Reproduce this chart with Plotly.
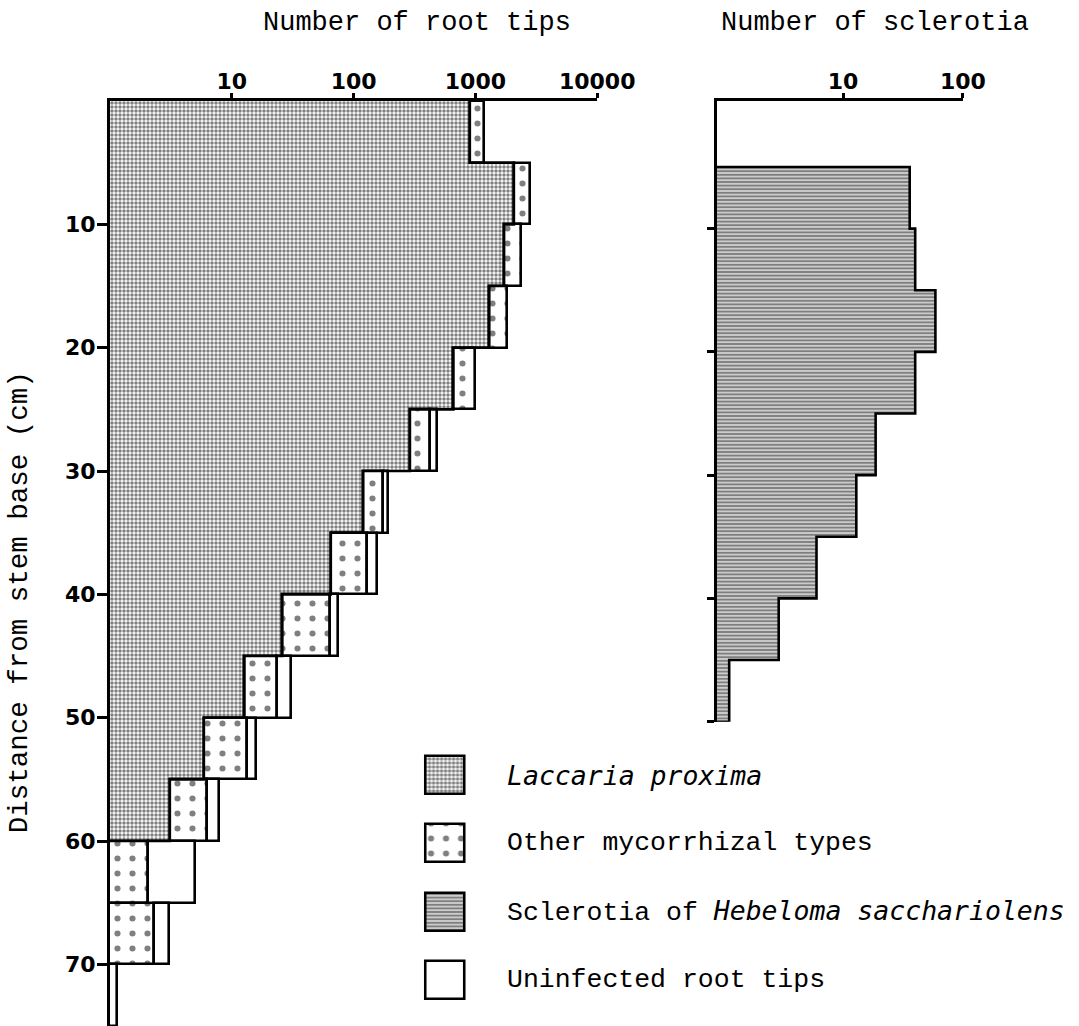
import plotly.graph_objects as go

# ---------------- data ----------------
bin_top_cm = [0, 5, 10, 15, 20, 25, 30, 35, 40, 45, 50, 55, 60, 65, 70]
bin_size_cm = 5
laccaria = [900, 2070, 1720, 1300, 660, 290, 120, 65, 26, 12.7, 5.9, 3.1, 0, 0, 0]
other_myc = [280, 720, 650, 500, 325, 130, 55, 63, 38, 10.6, 7.5, 3.2, 2.05, 2.3, 0]
uninfected = [0, 0, 0, 0, 0, 62, 18, 28, 11, 7.3, 2.4, 1.5, 2.95, 0.75, 1.15]

scl_bin_top_cm = [5, 10, 15, 20, 25, 30, 35, 40, 45]
sclerotia = [36, 40, 59, 40, 18.7, 12.9, 6, 2.9, 1.12]

root_ticks = [10, 100, 1000, 10000]
scl_ticks = [10, 100]
depth_ticks = [10, 20, 30, 40, 50, 60, 70]
scl_depth_ticks = [10, 20, 30, 40, 50]

legend_labels = [
    "<span style=\"font-family:'DejaVu Sans Mono'\"><i>Laccaria proxima</i></span>",
    "Other mycorrhizal types",
    "Sclerotia of <span style=\"font-family:'DejaVu Sans Mono'\"><i>Hebeloma sacchariolens</i></span>",
    "Uninfected root tips",
]

# ---------------- layout helpers ----------------
W, H = 1079, 1026
def fx(px):
    return px / W
def fy(px):
    return 1 - px / H

LINE = 2.6
MONO = "Liberation Mono, Courier New, monospace"
BOLD = dict(family="DejaVu Sans, Verdana, sans-serif", size=22, color="black", weight="bold")

x1_range = [0, 4]
x2_range = [-0.054, 2]

pat_lacc = dict(shape=".", fgcolor="black", bgcolor="white", size=4, solidity=0.6)
pat_other = dict(shape=".", fgcolor="black", bgcolor="white", size=15, solidity=0.13)
pat_scl = dict(shape="-", fgcolor="black", bgcolor="white", size=3.6, solidity=0.7)

mids = [t + bin_size_cm / 2 for t in bin_top_cm]
scl_mids = [t + bin_size_cm / 2 for t in scl_bin_top_cm]

def nz(v):
    return [x if x > 0 else None for x in v]

fig = go.Figure()

# Laccaria proxima (no outline, outline drawn as a staircase below)
fig.add_trace(go.Bar(
    y=mids, x=nz(laccaria), orientation="h", width=bin_size_cm,
    marker=dict(color="white", pattern=pat_lacc, line=dict(width=0)),
    xaxis="x", yaxis="y", showlegend=False, name="Laccaria proxima"))

# Other mycorrhizal types
fig.add_trace(go.Bar(
    y=mids, x=nz(other_myc), base=laccaria, orientation="h", width=bin_size_cm,
    marker=dict(color="white", pattern=pat_other, line=dict(width=LINE, color="black")),
    xaxis="x", yaxis="y", showlegend=False, name="Other mycorrhizal types"))

# Uninfected root tips
cum2 = [l + o for l, o in zip(laccaria, other_myc)]
fig.add_trace(go.Bar(
    y=mids, x=nz(uninfected), base=cum2, orientation="h", width=bin_size_cm,
    marker=dict(color="white", line=dict(width=LINE, color="black")),
    xaxis="x", yaxis="y", showlegend=False, name="Uninfected root tips"))

# staircase outline of the Laccaria region
sx, sy = [], []
last_bottom = 0
for t, l in zip(bin_top_cm, laccaria):
    if l > 0:
        sx += [l, l]
        sy += [t, t + bin_size_cm]
        last_bottom = t + bin_size_cm
sx.append(10 ** x1_range[0])
sy.append(last_bottom)
fig.add_trace(go.Scatter(x=sx, y=sy, mode="lines", line=dict(color="black", width=LINE),
                         xaxis="x", yaxis="y", showlegend=False, hoverinfo="skip"))

# Sclerotia
fig.add_trace(go.Bar(
    y=scl_mids, x=sclerotia, orientation="h", width=bin_size_cm,
    marker=dict(color="white", pattern=pat_scl, line=dict(width=0)),
    xaxis="x2", yaxis="y2", showlegend=False, name="Sclerotia"))
origin2 = 10 ** x2_range[0]
tx, ty = [origin2], [scl_bin_top_cm[0]]
for t, s in zip(scl_bin_top_cm, sclerotia):
    tx += [s, s]
    ty += [t, t + bin_size_cm]
tx.append(origin2)
ty.append(scl_bin_top_cm[-1] + bin_size_cm)
fig.add_trace(go.Scatter(x=tx, y=ty, mode="lines", line=dict(color="black", width=LINE),
                         xaxis="x2", yaxis="y2", showlegend=False, hoverinfo="skip"))

# Legend swatches (drawn as bars on a hidden axis pair)
swatch_patterns = [pat_lacc, pat_other, pat_scl, None]
for k, p in enumerate(swatch_patterns):
    mk = dict(color="white", line=dict(width=LINE, color="black"))
    if p is not None:
        mk["pattern"] = p
    fig.add_trace(go.Bar(y=[k], x=[1], base=[0], orientation="h", width=0.557,
                         marker=mk, xaxis="x3", yaxis="y3", showlegend=False,
                         hoverinfo="skip"))

axis_common = dict(showline=True, linecolor="black", linewidth=3, ticks="outside",
                   tickcolor="black", tickwidth=2.5, showgrid=False, zeroline=False,
                   mirror=False)

fig.update_layout(
    width=W, height=H, margin=dict(l=0, r=0, t=0, b=0),
    paper_bgcolor="white", plot_bgcolor="white",
    barmode="overlay", bargap=0, showlegend=False,
    xaxis=dict(domain=[fx(114), fx(619)], type="log", range=x1_range, side="top",
               anchor="y", tickvals=root_ticks, ticktext=[str(v) for v in root_ticks],
               ticklen=5, ticklabelstandoff=-5, tickfont=BOLD, **axis_common),
    yaxis=dict(domain=[0, fy(101)], range=[75, 0], anchor="x",
               tickvals=depth_ticks, ticktext=[str(v) for v in depth_ticks],
               ticklen=10, ticklabelstandoff=-3, tickfont=BOLD, **axis_common),
    xaxis2=dict(domain=[fx(743), fx(998)], type="log", range=x2_range, side="top",
                anchor="y2", tickvals=scl_ticks, ticktext=[str(v) for v in scl_ticks],
                ticklen=5, ticklabelstandoff=-5, tickfont=BOLD, **axis_common),
    yaxis2=dict(domain=[fy(721.7), fy(101)], range=[50, -0.35], anchor="x2",
                tickvals=scl_depth_ticks, showticklabels=False, ticklen=7, **axis_common),
    xaxis3=dict(domain=[fx(439), fx(484)], range=[-0.05, 1.05], visible=False,
                anchor="y3", fixedrange=True),
    yaxis3=dict(domain=[fy(1014), fy(741)], range=[3.5, -0.5], visible=False,
                anchor="x3", fixedrange=True),
)

annotations = [
    dict(text="Number of root tips", x=fx(432), y=fy(23), xref="paper", yref="paper",
         showarrow=False, xanchor="center", yanchor="middle",
         font=dict(family=MONO, size=27, color="black")),
    dict(text="Number of sclerotia", x=fx(907), y=fy(23), xref="paper", yref="paper",
         showarrow=False, xanchor="center", yanchor="middle",
         font=dict(family=MONO, size=27, color="black")),
    dict(text="Distance from stem base (cm)", x=fx(20), y=fy(602), xref="paper",
         yref="paper", showarrow=False, textangle=-90, xanchor="center",
         yanchor="middle", font=dict(family=MONO, size=27.5, color="black")),
]
row_centers_px = [775, 843, 911.5, 980]
for lbl, yc in zip(legend_labels, row_centers_px):
    annotations.append(dict(text=lbl, x=fx(523), y=fy(yc), xref="paper", yref="paper",
                            showarrow=False, xanchor="left", yanchor="middle",
                            font=dict(family=MONO, size=26.5, color="black")))
fig.update_layout(annotations=annotations)

fig.write_html("out.html")
